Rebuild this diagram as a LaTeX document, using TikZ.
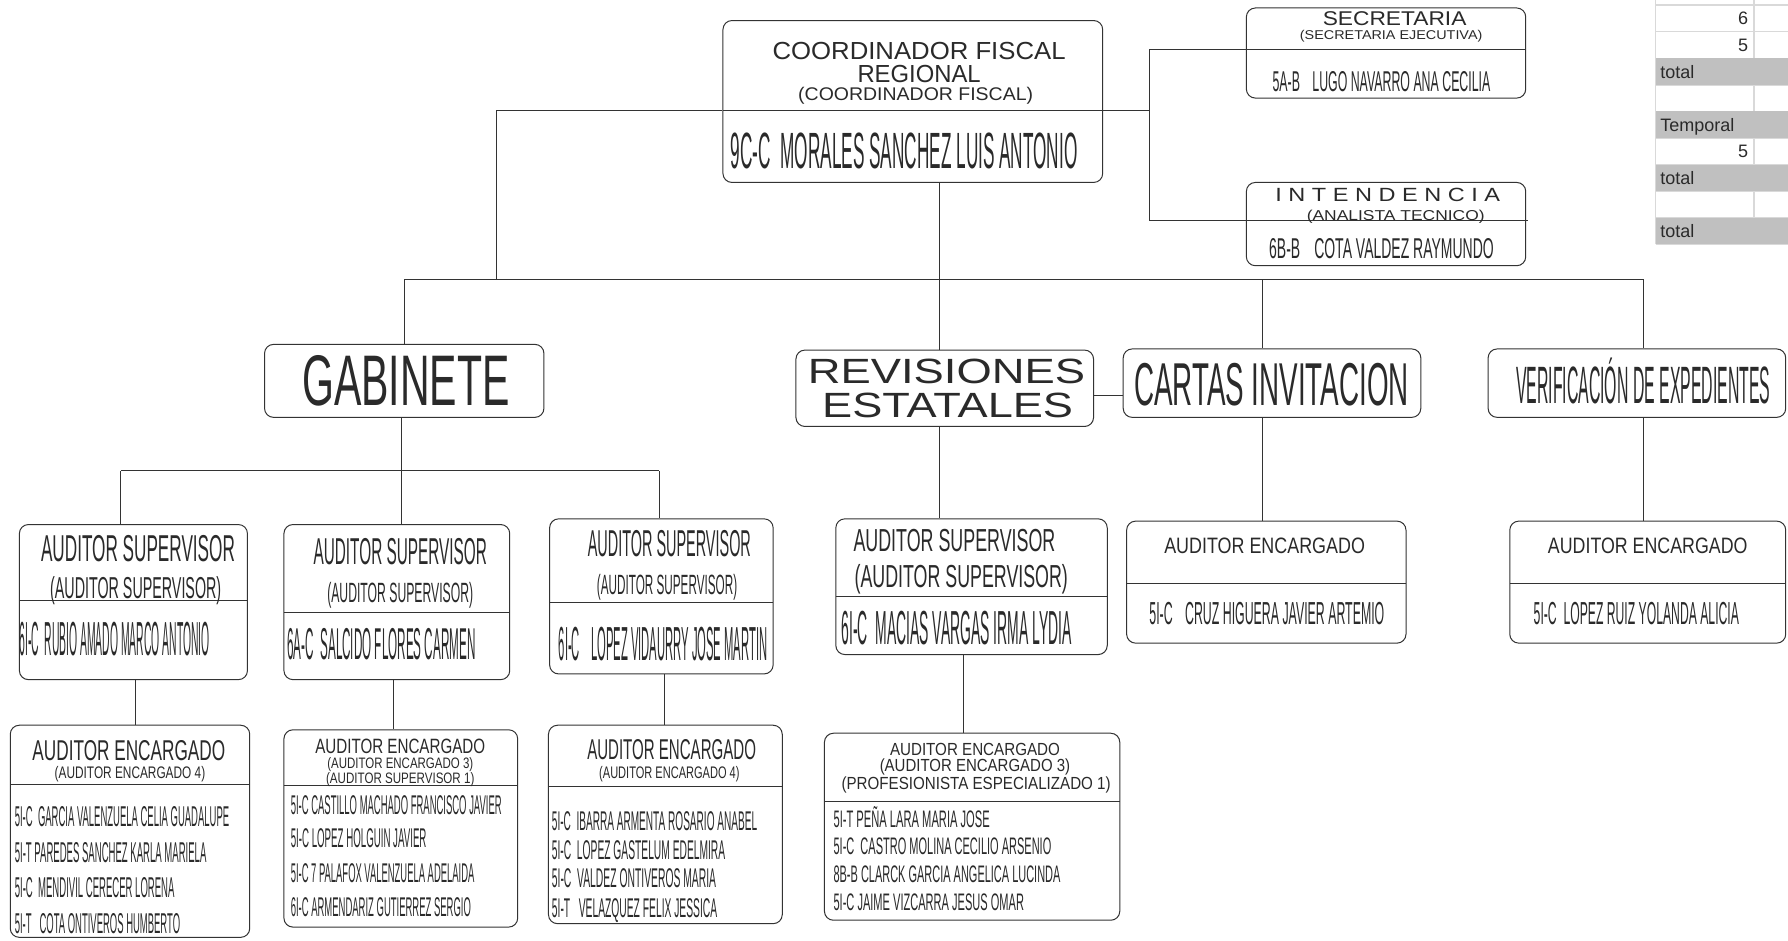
\documentclass[tikz,border=0pt]{standalone}
\usepackage{fontspec}
\setmainfont{Liberation Sans}
\IfFontExistsTF{Liberation Sans Narrow}{\newfontfamily\nar{Liberation Sans Narrow}}{\newfontfamily\nar{Liberation Sans}}
\usepackage{graphicx}
\usetikzlibrary{fit}
\newdimen\px \px=1.1403pt
\newdimen\capu \capu=1.5926pt
\newcommand\T[3]{{\fontsize{#1\capu}{#1\capu}\selectfont\resizebox{#2\px}{\height}{#3}}}
\newcommand\N[3]{{\nar\fontsize{#1\capu}{#1\capu}\selectfont\resizebox{#2\px}{\height}{#3}}}
\definecolor{ink}{HTML}{2A2A2A}
\definecolor{rule}{HTML}{333333}
\definecolor{cellgray}{HTML}{C0C0C0}
\definecolor{gridgray}{HTML}{D9D9D9}
\begin{document}
\begin{tikzpicture}[x=1.1403pt,y=-1.1403pt,
  box/.style={draw=rule, line width=1pt, rounded corners=9pt, inner sep=0pt, fill=white},
  divl/.style={draw=rule, line width=1pt},
  conn/.style={draw=rule, line width=1pt},
  lbl/.style={inner sep=0pt, outer sep=0pt, anchor=base, text=ink},
  lblw/.style={lbl, anchor=base west},
  tbl/.style={inner sep=0pt, outer sep=0pt, text=ink, font={\fontsize{18pt}{18pt}\selectfont}},
]
\useasboundingbox (0,0) rectangle (1568,825);

% ---------- table (top right) ----------
\foreach \yy in {4.5,27.8,51.1,74.4,97.7,121,144.3,167.6,190.9,214.2}
  \draw[gridgray, line width=1.5pt] (1452,\yy) -- (1568,\yy);
\draw[gridgray, line width=1.5pt] (1452,0) -- (1452,214.2);
\draw[gridgray, line width=1.5pt] (1538,0) -- (1538,214.2);
\foreach \ya/\yb in {51.1/74.4,97.7/121,144.3/167.6,190.9/214.2}
  \fill[cellgray] (1452,\ya) rectangle (1568,\yb);
\node[tbl, anchor=base east] (tab6)  at (1533,21.7) {6};
\node[tbl, anchor=base east] (tab5a) at (1533,45) {5};
\node[tbl, anchor=base west] (tabt1) at (1456,68.4) {total};
\node[tbl, anchor=base west] (tabtp) at (1456,115) {Temporal};
\node[tbl, anchor=base east] (tab5b) at (1533,138.3) {5};
\node[tbl, anchor=base west] (tabt2) at (1456,161.6) {total};
\node[tbl, anchor=base west] (tabt3) at (1456,208.2) {total};

% ---------- junction coordinates ----------
\coordinate (jL) at (435,97);
\coordinate (jR) at (1008,97);
\coordinate (jS) at (1008,43);
\coordinate (jI) at (1008,193);
\coordinate (bar) at (0,245);
\coordinate (xrev) at (824,0);
\coordinate (xcar) at (1107,0);
\coordinate (xver) at (1441,0);
\coordinate (jRC) at (0,347);
\coordinate (d1) at (106,413);
\coordinate (d2) at (352,413);
\coordinate (d3) at (578,413);
\coordinate (xe1) at (119,0);
\coordinate (xe2) at (345,0);
\coordinate (xe3) at (583,0);
\coordinate (xe4) at (845,0);

% ---------- boxes ----------
\node[box, fit={(634,18) (967,160)}] (coord) {};
\node[box, fit={(1093,7) (1338,86)}] (sec) {};
\node[box, fit={(1093,160) (1338,233)}] (int) {};
\node[box, fit={(232,302) (477,366)}] (gab) {};
\node[box, fit={(698,307) (959,374)}] (rev) {};
\node[box, fit={(985,306) (1246,366)}] (cartas) {};
\node[box, fit={(1305,306) (1566,366)}] (verif) {};
\node[box, fit={(17,460) (217,596)}] (as1) {};
\node[box, fit={(249,460) (447,596)}] (as2) {};
\node[box, fit={(482,455) (678,591)}] (as3) {};
\node[box, fit={(733,455) (971,574)}] (as4) {};
\node[box, fit={(988,457) (1233,564)}] (aec) {};
\node[box, fit={(1324,457) (1566,564)}] (aev) {};
\node[box, fit={(9,636) (219,822)}] (e1) {};
\node[box, fit={(249,640) (454,813)}] (e2) {};
\node[box, fit={(481,636) (686,810)}] (e3) {};
\node[box, fit={(723,643) (982,807)}] (e4) {};

% ---------- dividers ----------
\draw[divl] (634,97) -- (967,97);
\draw[divl] (1093,43) -- (1338,43);
\draw[divl] (1093,193) -- (1340,193);
\draw[divl] (17,527) -- (217,527);
\draw[divl] (249,537) -- (447,537);
\draw[divl] (482,528) -- (678,528);
\draw[divl] (733,523) -- (971,523);
\draw[divl] (988,512) -- (1233,512);
\draw[divl] (1324,512) -- (1566,512);
\draw[divl] (9,688) -- (219,688);
\draw[divl] (249,689) -- (454,689);
\draw[divl] (481,690) -- (686,690);
\draw[divl] (723,703) -- (982,703);

% ---------- connectors ----------
\draw[conn] (jL) -- (coord.west |- jL);
\draw[conn] (coord.east |- jR) -- (jR);
\draw[conn] (jS) -- (jI);
\draw[conn] (jS) -- (sec.west |- jS);
\draw[conn] (jI) -- (int.west |- jI);
\draw[conn] (jL) -- (jL |- bar);
\draw[conn] (gab.north) |- (bar -| xver);
\draw[conn] (bar -| xver) -- (verif.north -| xver);
\draw[conn] (coord.south -| xrev) -- (rev.north -| xrev);
\draw[conn] (bar -| xcar) -- (cartas.north -| xcar);
\draw[conn] (rev.east |- jRC) -- (cartas.west |- jRC);
\draw[conn] (gab.south -| d2) -- (d2);
\draw[conn] (d1) -- (d3);
\draw[conn] (d1) -- (as1.north -| d1);
\draw[conn] (d2) -- (as2.north -| d2);
\draw[conn] (d3) -- (as3.north -| d3);
\draw[conn] (rev.south -| xrev) -- (as4.north -| xrev);
\draw[conn] (cartas.south -| xcar) -- (aec.north -| xcar);
\draw[conn] (verif.south -| xver) -- (aev.north -| xver);
\draw[conn] (as1.south -| xe1) -- (e1.north -| xe1);
\draw[conn] (as2.south -| xe2) -- (e2.north -| xe2);
\draw[conn] (as3.south -| xe3) -- (e3.north -| xe3);
\draw[conn] (as4.south -| xe4) -- (e4.north -| xe4);

% ---------- texts ----------
\node[lbl] (coord-a) at (806,52) {\T{15.5}{257}{COORDINADOR FISCAL}};
\node[lbl] (coord-b) at (806,72) {\T{15.5}{108}{REGIONAL}};
\node[lbl] (coord-c) at (803,88) {\T{11.5}{206}{(COORDINADOR FISCAL)}};
\node[lblw] (coord-d) at (641,147.5) {\N{32}{304}{9C-C\ \ MORALES SANCHEZ LUIS ANTONIO}};

\node[lbl] (sec-a) at (1223,22) {\T{12.5}{126}{SECRETARIA}};
\node[lbl] (sec-b) at (1220,35) {\T{8}{160}{(SECRETARIA EJECUTIVA)}};
\node[lblw] (sec-c) at (1116,80) {\N{18}{191}{5A-B\quad LUGO NAVARRO ANA CECILIA}};

\node[lbl] (int-a) at (1217,177) {\T{12}{197}{I N T E N D E N C I A}};
\node[lbl] (int-b) at (1224,193) {\T{9}{156}{(ANALISTA TECNICO)}};
\node[lblw] (int-c) at (1113,227) {\N{18}{197}{6B-B\quad COTA VALDEZ RAYMUNDO}};

\node[lbl] (gab-a) at (356,356) {\N{45}{182}{GABINETE}};
\node[lbl] (rev-a) at (830,336) {\T{22}{243}{REVISIONES}};
\node[lbl] (rev-b) at (831,366) {\T{22}{220}{ESTATALES}};
\node[lbl] (cartas-a) at (1115,356) {\N{38}{241}{CARTAS INVITACION}};
\node[lbl] (verif-a) at (1441,353.5) {\N{33}{223}{VERIFICACIÓN DE EXPEDIENTES}};

\node[lbl] (as1-a) at (121,492.7) {\N{23.5}{170}{AUDITOR SUPERVISOR}};
\node[lbl] (as1-b) at (119,524.5) {\N{19}{150}{(AUDITOR SUPERVISOR)}};
\node[lblw] (as1-c) at (17,575) {\N{30}{167}{6I-C\ \ RUBIO AMADO MARCO ANTONIO}};

\node[lbl] (as2-a) at (351,494.7) {\N{23.5}{152}{AUDITOR SUPERVISOR}};
\node[lbl] (as2-b) at (351,528.7) {\N{17.5}{128}{(AUDITOR SUPERVISOR)}};
\node[lblw] (as2-c) at (252,578) {\N{28}{165}{6A-C\ \ SALCIDO FLORES CARMEN}};

\node[lbl] (as3-a) at (587,487.7) {\N{23.5}{143}{AUDITOR SUPERVISOR}};
\node[lbl] (as3-b) at (585,521.7) {\N{17.5}{123}{(AUDITOR SUPERVISOR)}};
\node[lblw] (as3-c) at (490,579) {\N{30}{183}{6I-C\quad LOPEZ VIDAURRY JOSE MARTIN}};

\node[lbl] (as4-a) at (837,484) {\N{20}{177}{AUDITOR SUPERVISOR}};
\node[lbl] (as4-b) at (843,515) {\N{20}{187}{(AUDITOR SUPERVISOR)}};
\node[lblw] (as4-c) at (738,565) {\N{30}{202}{6I-C\ \ MACIAS VARGAS IRMA LYDIA}};

\node[lbl] (aec-a) at (1109,485) {\T{14}{176}{AUDITOR ENCARGADO}};
\node[lblw] (aec-b) at (1008,548) {\N{20}{206}{5I-C\quad CRUZ HIGUERA JAVIER ARTEMIO}};
\node[lbl] (aev-a) at (1445,485) {\T{14}{175}{AUDITOR ENCARGADO}};
\node[lblw] (aev-b) at (1345,548) {\N{20}{180}{5I-C\ \ LOPEZ RUIZ YOLANDA ALICIA}};

\node[lbl] (e1-a) at (113,666.5) {\N{18}{169}{AUDITOR ENCARGADO}};
\node[lbl] (e1-b) at (114,683) {\N{10.5}{132}{(AUDITOR ENCARGADO 4)}};
\node[lblw] (e1-r1) at (13,725) {\N{18}{188}{5I-C\ \ GARCIA VALENZUELA CELIA GUADALUPE}};
\node[lblw] (e1-r2) at (13,756) {\N{18}{168}{5I-T PAREDES SANCHEZ KARLA MARIELA}};
\node[lblw] (e1-r3) at (13,787) {\N{18}{140}{5I-C\ \ MENDIVIL CERECER LORENA}};
\node[lblw] (e1-r4) at (13,819) {\N{18}{145}{5I-T\ \ \ COTA ONTIVEROS HUMBERTO}};

\node[lbl] (e2-a) at (351,660.5) {\T{13}{149}{AUDITOR ENCARGADO}};
\node[lbl] (e2-b) at (351,673.5) {\T{9.5}{128}{(AUDITOR ENCARGADO 3)}};
\node[lbl] (e2-c) at (351,687) {\T{9.5}{130}{(AUDITOR SUPERVISOR 1)}};
\node[lblw] (e2-r1) at (255,714.5) {\N{17}{185}{5I-C\ CASTILLO MACHADO FRANCISCO JAVIER}};
\node[lblw] (e2-r2) at (255,743.5) {\N{17}{119}{5I-C\ LOPEZ HOLGUIN JAVIER}};
\node[lblw] (e2-r3) at (255,773.5) {\N{17}{161}{5I-C 7 PALAFOX VALENZUELA ADELAIDA}};
\node[lblw] (e2-r4) at (255,803.5) {\N{17}{158}{6I-C ARMENDARIZ GUTIERREZ SERGIO}};

\node[lbl] (e3-a) at (589,666) {\N{18}{148}{AUDITOR ENCARGADO}};
\node[lbl] (e3-b) at (587,683) {\N{10.5}{123}{(AUDITOR ENCARGADO 4)}};
\node[lblw] (e3-r1) at (484,728.5) {\N{17}{180}{5I-C\ \ IBARRA ARMENTA ROSARIO ANABEL}};
\node[lblw] (e3-r2) at (484,753.5) {\N{17}{152}{5I-C\ \ LOPEZ GASTELUM EDELMIRA}};
\node[lblw] (e3-r3) at (484,778.5) {\N{17}{144}{5I-C\ \ VALDEZ ONTIVEROS MARIA}};
\node[lblw] (e3-r4) at (484,804.5) {\N{17}{145}{5I-T\ \ \ VELAZQUEZ FELIX JESSICA}};

\node[lbl] (e4-a) at (855,662.5) {\T{11}{149}{AUDITOR ENCARGADO}};
\node[lbl] (e4-b) at (855,676.5) {\T{11}{167}{(AUDITOR ENCARGADO 3)}};
\node[lbl] (e4-c) at (856,692.5) {\T{11}{236}{(PROFESIONISTA ESPECIALIZADO 1)}};
\node[lblw] (e4-r1) at (731,725.5) {\N{15}{137}{5I-T\ PEÑA LARA MARIA JOSE}};
\node[lblw] (e4-r2) at (731,749.5) {\N{15}{191}{5I-C\ \ CASTRO MOLINA CECILIO ARSENIO}};
\node[lblw] (e4-r3) at (731,773.5) {\N{15}{199}{8B-B CLARCK GARCIA ANGELICA LUCINDA}};
\node[lblw] (e4-r4) at (731,798.5) {\N{15}{167}{5I-C JAIME VIZCARRA JESUS OMAR}};
\end{tikzpicture}
\end{document}
